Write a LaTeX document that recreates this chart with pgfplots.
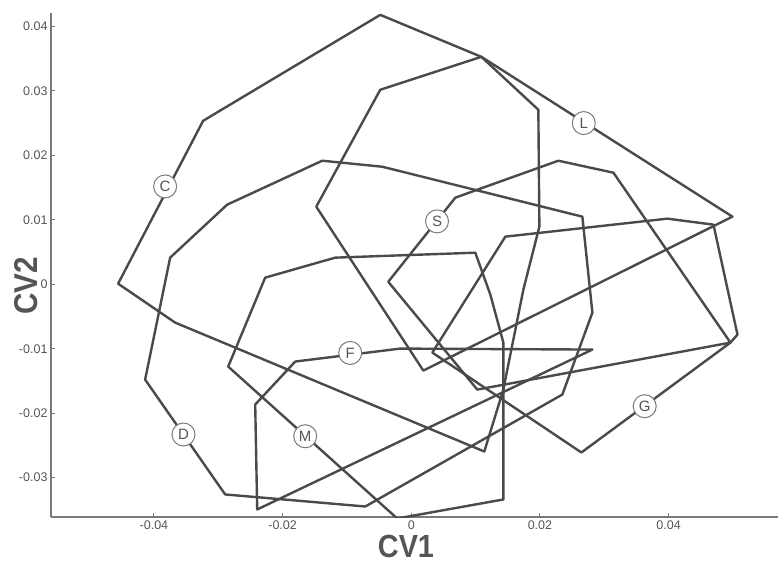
\documentclass[border=0pt]{standalone}
\usepackage{pgfplots}
\pgfplotsset{compat=1.18}
\usepackage{graphicx}
\usepackage{fontspec}
\setmainfont{Liberation Sans}
\definecolor{ln}{HTML}{4A4A4A}
\definecolor{ax}{HTML}{7A7A7A}
\definecolor{tk}{HTML}{555555}
\begin{document}
\begin{tikzpicture}
\begin{axis}[
 scale only axis, width=727pt, height=504pt,
 xmin=-0.056, xmax=0.057, ymin=-0.0361, ymax=0.0421,
 axis x line=bottom, axis y line=left,
 axis line style={-, ax, line width=1.2pt},
 tick align=inside, major tick length=4pt,
 tick style={ax, line width=1pt},
 xtick={-0.04,-0.02,0,0.02,0.04},
 xticklabels={-0.04,-0.02,0,0.02,0.04},
 ytick={-0.03,-0.02,-0.01,0,0.01,0.02,0.03,0.04},
 yticklabels={-0.03,-0.02,-0.01,0,0.01,0.02,0.03,0.04},
 tick label style={font=\fontsize{12.5}{14}\selectfont, text=tk},
 scaled ticks=false,
 poly/.style={line width=2.4pt, color=ln, solid, line join=round, line cap=round, mark=none},
]
% C
\addplot[poly] coordinates {(-0.04557,0.0001) (-0.03235,0.02538) (-0.00482,0.04181) (0.01089,0.0353) (0.01975,0.02709) (0.01991,0.00895) (0.01742,-0.00082) (0.01431,-0.01633) (0.01135,-0.02594) (-0.0367,-0.00594) (-0.04557,0.0001)};
% L
\addplot[poly] coordinates {(-0.01477,0.01205) (-0.00482,0.03019) (0.01089,0.0353) (0.04992,0.0105) (0.00187,-0.01338) (-0.01477,0.01205)};
% S
\addplot[poly] coordinates {(-0.00358,0.0004) (0.00684,0.01344) (0.01026,0.01468) (0.02286,0.01918) (0.03142,0.01732) (0.04961,-0.00904) (0.01026,-0.01633) (-0.00358,0.0004)};
% G
\addplot[poly] coordinates {(0.01462,0.0074) (0.03981,0.01019) (0.04697,0.00926) (0.0507,-0.0078) (0.04961,-0.00904) (0.02644,-0.02609) (0.00327,-0.01059) (0.01462,0.0074)};
% M
\addplot[poly] coordinates {(-0.02271,0.00104) (-0.01182,0.00414) (0.00995,0.00491) (0.01229,-0.0016) (0.01431,-0.00904) (0.01431,-0.03338) (-0.00218,-0.03633) (-0.02846,-0.01276) (-0.02271,0.00104)};
% D
\addplot[poly] coordinates {(-0.03748,0.00414) (-0.02862,0.01236) (-0.01384,0.01918) (-0.00451,0.01825) (0.02659,0.0105) (0.02815,-0.00439) (0.02348,-0.0171) (-0.00715,-0.03447) (-0.02893,-0.0326) (-0.04137,-0.01478) (-0.03748,0.00414)};
% F
\addplot[poly] coordinates {(-0.01804,-0.01198) (-0.00171,-0.00997) (0.02815,-0.01012) (-0.02395,-0.03493) (-0.02426,-0.01865) (-0.01804,-0.01198)};
% group labels
\tikzset{grp/.style={circle, draw=ax, fill=white, line width=1pt, inner sep=0pt, minimum size=23pt, font=\fontsize{15}{15}\selectfont, text=tk}}
\node[grp] at (axis cs:-0.03826,0.01519) {C};
\node[grp] at (axis cs:0.02681,0.02502) {L};
\node[grp] at (axis cs:0.0040,0.00977) {S};
\node[grp] at (axis cs:-0.00949,-0.01064) {F};
\node[grp] at (axis cs:-0.03541,-0.0233) {D};
\node[grp] at (axis cs:-0.01649,-0.02357) {M};
\node[grp] at (axis cs:0.03628,-0.01891) {G};
\end{axis}
\node[xshift=355pt, yshift=-29pt, text=tk, font=\fontsize{32}{32}\selectfont\bfseries] at (current axis.south west) {\scalebox{0.9}[1]{CV1}};
\node[xshift=-25pt, yshift=231pt, rotate=90, text=tk, font=\fontsize{33}{33}\selectfont\bfseries] at (current axis.south west) {\scalebox{0.9}[1]{CV2}};
\pgfresetboundingbox
\path (current axis.south west) ++(-51pt,-48pt) rectangle ([yshift=13pt]current axis.north east);
\end{tikzpicture}
\end{document}
